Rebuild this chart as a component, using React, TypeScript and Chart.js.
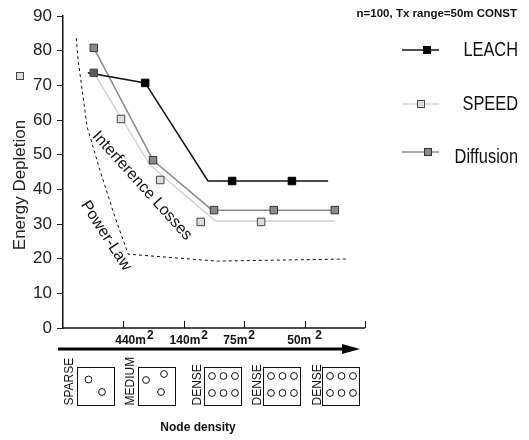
import React, { useEffect, useRef } from 'react';
import { Chart, registerables } from 'chart.js';

Chart.register(...registerables);

// ---- data ----
const yTicks = [0, 10, 20, 30, 40, 50, 60, 70, 80, 90];
const xTickValues = [1, 2, 3, 4, 5];
const areaLabels = ['440m', '140m', '75m', '50m'];
const areaExponent = '2';
const densityLabels = ['SPARSE', 'MEDIUM', 'DENSE', 'DENSE', 'DENSE'];
const densityNodes = [2, 3, 6, 6, 6];

const leachLineX = [0.41, 1.36, 2.4, 4.39];
const leachLineY = [73.6, 70.7, 42.4, 42.4];
const leachMarkX = [1.36, 2.8, 3.79];
const leachMarkY = [70.7, 42.4, 42.4];

const speedLineX = [0.51, 1.44, 2.52, 4.5];
const speedLineY = [73.6, 47.0, 30.9, 30.9];
const speedMarkX = [0.51, 0.96, 1.61, 2.28, 3.28];
const speedMarkY = [73.6, 60.3, 42.7, 30.6, 30.6];

const diffLineX = [0.51, 1.49, 2.47, 4.5];
const diffLineY = [80.8, 48.4, 34.0, 34.0];
const diffMarkX = [0.51, 1.49, 2.5, 3.49, 4.5];
const diffMarkY = [80.8, 48.4, 34.0, 34.0, 34.0];

const powerX = [0.22, 0.25, 0.4, 0.61, 0.86, 1.08, 2.55, 4.7];
const powerY = [83.6, 77.3, 58.0, 45.6, 32.0, 21.3, 19.3, 19.9];

const seriesNames = ['LEACH', 'SPEED', 'Diffusion'];
const noteText = 'n=100, Tx range=50m CONST';
const yTitle = 'Energy Depletion';
const xTitle = 'Node density';
const annoInterference = { text: 'Interference Losses', x: 1.31, y: 41.0 };
const annoPower = { text: 'Power-Law', x: 0.71, y: 26.6 };

const pts = (xs: number[], ys: number[]) => xs.map((x, i) => ({ x, y: ys[i] }));

const FONT = '"Liberation Sans", Arial, sans-serif';

const decor = {
  id: 'decor',
  afterDraw(chart: any) {
    const ctx: CanvasRenderingContext2D = chart.ctx;
    const xs = chart.scales.x;
    const ys = chart.scales.y;
    const y0 = ys.getPixelForValue(0);
    const left = chart.chartArea.left;
    ctx.save();

    // x axis line and ticks
    ctx.strokeStyle = '#111';
    ctx.lineWidth = 1.5;
    ctx.beginPath();
    ctx.moveTo(left, y0);
    ctx.lineTo(xs.getPixelForValue(xTickValues[xTickValues.length - 1]), y0);
    ctx.stroke();
    ctx.lineWidth = 1;
    xTickValues.forEach((v) => {
      const px = Math.round(xs.getPixelForValue(v)) + 0.5;
      ctx.beginPath();
      ctx.moveTo(px, y0);
      ctx.lineTo(px, y0 - 7);
      ctx.stroke();
    });

    // x tick labels with superscript
    const shift = [11, 5, -5, 0];
    const gap = [1, 1, 1, 4];
    ctx.fillStyle = '#111';
    ctx.font = 'bold 12px ' + FONT;
    ctx.textBaseline = 'alphabetic';
    ctx.textAlign = 'left';
    areaLabels.forEach((lab, i) => {
      const w1 = ctx.measureText(lab).width;
      const w2 = ctx.measureText(areaExponent).width;
      const total = w1 + gap[i] + w2;
      const cx = xs.getPixelForValue(xTickValues[i]) + shift[i];
      const sx = cx - total / 2;
      ctx.fillText(lab, sx, y0 + 16);
      ctx.fillText(areaExponent, sx + w1 + gap[i], y0 + 11);
    });

    // arrow
    const ay = y0 + 21;
    ctx.strokeStyle = '#000';
    ctx.lineWidth = 3;
    ctx.beginPath();
    ctx.moveTo(58, ay);
    ctx.lineTo(346, ay);
    ctx.stroke();
    ctx.fillStyle = '#000';
    ctx.beginPath();
    ctx.moveTo(360, ay);
    ctx.lineTo(342, ay - 5);
    ctx.lineTo(342, ay + 5);
    ctx.closePath();
    ctx.fill();

    // density boxes
    const boxLefts = [77, 138, 204, 263, 322];
    const boxTop = 367;
    const boxW = 37;
    const boxH = 38;
    const labelX = [70, 131, 198, 258, 318];
    densityLabels.forEach((lab, i) => {
      const bx = boxLefts[i];
      ctx.fillStyle = '#fff';
      ctx.strokeStyle = '#111';
      ctx.lineWidth = 1;
      ctx.fillRect(bx + 0.5, boxTop + 0.5, boxW, boxH);
      ctx.strokeRect(bx + 0.5, boxTop + 0.5, boxW, boxH);
      let circles: number[][] = [];
      if (densityNodes[i] === 2) circles = [[11.5, 12.5], [25, 25]];
      else if (densityNodes[i] === 3) circles = [[8, 13], [26, 7], [23, 25]];
      else circles = [[8, 9], [19.5, 9], [31, 9], [8, 26], [19.5, 26], [31, 26]];
      ctx.lineWidth = 1;
      circles.forEach(([cx, cy]) => {
        ctx.beginPath();
        ctx.arc(bx + cx, boxTop + cy, 3.4, 0, Math.PI * 2);
        ctx.stroke();
      });
      ctx.save();
      ctx.translate(labelX[i], boxTop + boxH + 0.5);
      ctx.rotate(-Math.PI / 2);
      ctx.fillStyle = '#111';
      ctx.font = '12px ' + FONT;
      ctx.textAlign = 'left';
      ctx.textBaseline = 'middle';
      ctx.fillText(lab, 0, 0);
      ctx.restore();
    });

    // x title
    ctx.fillStyle = '#111';
    ctx.font = 'bold 12px ' + FONT;
    ctx.textAlign = 'center';
    ctx.textBaseline = 'middle';
    ctx.fillText(xTitle, 198, 428);

    // y title
    ctx.save();
    ctx.translate(20, 185);
    ctx.rotate(-Math.PI / 2);
    ctx.font = '17px ' + FONT;
    ctx.fillStyle = '#222';
    ctx.textAlign = 'center';
    ctx.textBaseline = 'middle';
    ctx.fillText(yTitle, 0, 0);
    ctx.restore();

    // stray marker by the title
    ctx.fillStyle = '#dedede';
    ctx.strokeStyle = '#444';
    ctx.lineWidth = 1;
    ctx.fillRect(16.5, 72.5, 7, 7);
    ctx.strokeRect(16.5, 72.5, 7, 7);

    // annotations
    const anno = (a: any, angle: number) => {
      ctx.save();
      ctx.translate(xs.getPixelForValue(a.x), ys.getPixelForValue(a.y));
      ctx.rotate((angle * Math.PI) / 180);
      ctx.font = '16px ' + FONT;
      ctx.fillStyle = '#111';
      ctx.textAlign = 'center';
      ctx.textBaseline = 'middle';
      ctx.fillText(a.text, 0, 0);
      ctx.restore();
    };
    anno(annoInterference, 48);
    anno(annoPower, 57);

    // note
    ctx.font = 'bold 11.5px ' + FONT;
    ctx.fillStyle = '#111';
    ctx.textAlign = 'right';
    ctx.textBaseline = 'alphabetic';
    ctx.fillText(noteText, 517, 17);

    // legend
    const ds = chart.data.datasets;
    const legend = [
      { line: ds[0], mark: ds[1], y: 50, mx: 427, base: 56 },
      { line: ds[2], mark: ds[3], y: 104, mx: 421, base: 110 },
      { line: ds[4], mark: ds[5], y: 152, mx: 428, base: 163 },
    ];
    legend.forEach((l, i) => {
      ctx.strokeStyle = l.line.borderColor;
      ctx.lineWidth = l.line.borderWidth;
      ctx.beginPath();
      ctx.moveTo(402, l.y);
      ctx.lineTo(439, l.y);
      ctx.stroke();
      const mc = Array.isArray(l.mark.backgroundColor) ? l.mark.backgroundColor[1] : l.mark.backgroundColor;
      ctx.fillStyle = mc;
      ctx.strokeStyle = l.mark.borderColor;
      ctx.lineWidth = 1;
      ctx.fillRect(l.mx - 3.5, l.y - 3.5, 7, 7);
      ctx.strokeRect(l.mx - 3.5, l.y - 3.5, 7, 7);
      ctx.save();
      ctx.translate(518, l.base);
      ctx.scale(0.84, 1);
      ctx.font = '19.5px ' + FONT;
      ctx.fillStyle = '#111';
      ctx.textAlign = 'right';
      ctx.textBaseline = 'alphabetic';
      ctx.fillText(seriesNames[i], 0, 0);
      ctx.restore();
    });

    ctx.restore();
  },
};

export default function App() {
  const ref = useRef<HTMLCanvasElement>(null);
  useEffect(() => {
    if (!ref.current) return;
    const chart = new Chart(ref.current, {
      type: 'line',
      data: {
        datasets: [
          {
            label: seriesNames[0],
            data: pts(leachLineX, leachLineY),
            borderColor: '#111',
            borderWidth: 1.5,
            pointRadius: 0,
            order: 3,
          },
          {
            label: seriesNames[0] + ' points',
            data: pts(leachMarkX, leachMarkY),
            showLine: false,
            pointStyle: 'rect',
            pointRadius: 5.3,
            backgroundColor: '#000',
            borderColor: '#000',
            borderWidth: 1,
            order: 0,
          },
          {
            label: seriesNames[1],
            data: pts(speedLineX, speedLineY),
            borderColor: '#d4d4d4',
            borderWidth: 1.5,
            pointRadius: 0,
            order: 5,
          },
          {
            label: seriesNames[1] + ' points',
            data: pts(speedMarkX, speedMarkY),
            showLine: false,
            pointStyle: 'rect',
            pointRadius: 5.3,
            backgroundColor: ['#5a5a5a', '#dedede', '#dedede', '#dedede', '#dedede'],
            borderColor: '#444',
            borderWidth: 1,
            order: 1,
          },
          {
            label: seriesNames[2],
            data: pts(diffLineX, diffLineY),
            borderColor: '#8c8c8c',
            borderWidth: 1.5,
            pointRadius: 0,
            order: 4,
          },
          {
            label: seriesNames[2] + ' points',
            data: pts(diffMarkX, diffMarkY),
            showLine: false,
            pointStyle: 'rect',
            pointRadius: 5.3,
            backgroundColor: '#8a8a8a',
            borderColor: '#333',
            borderWidth: 1,
            order: 2,
          },
          {
            label: 'Power-Law',
            data: pts(powerX, powerY),
            borderColor: '#111',
            borderWidth: 1,
            borderDash: [3, 3],
            pointRadius: 0,
            order: 6,
          },
        ],
      },
      options: {
        responsive: false,
        animation: false,
        layout: { padding: { left: 0, top: 16, right: 164, bottom: 112 } },
        plugins: { legend: { display: false }, tooltip: { enabled: false } },
        scales: {
          x: { type: 'linear', min: 0, max: 5, display: false },
          y: {
            type: 'linear',
            min: 0,
            max: 90,
            afterBuildTicks: (s: any) => {
              s.ticks = yTicks.map((v) => ({ value: v }));
            },
            afterFit: (s: any) => {
              s.width = 63;
            },
            ticks: {
              font: { family: FONT, size: 17 },
              color: '#222',
              padding: 5,
            },
            grid: {
              drawOnChartArea: false,
              drawTicks: true,
              tickLength: 6,
              color: '#222',
              lineWidth: 1,
            },
            border: { display: true, color: '#111', width: 1.5 },
          },
        },
      },
      plugins: [decor],
    });
    return () => chart.destroy();
  }, []);
  return (
    <div style={{ position: 'absolute', left: 0, top: 0, width: 529, height: 440 }}>
      <canvas ref={ref} width={529} height={440} style={{ width: 529, height: 440 }} />
    </div>
  );
}
